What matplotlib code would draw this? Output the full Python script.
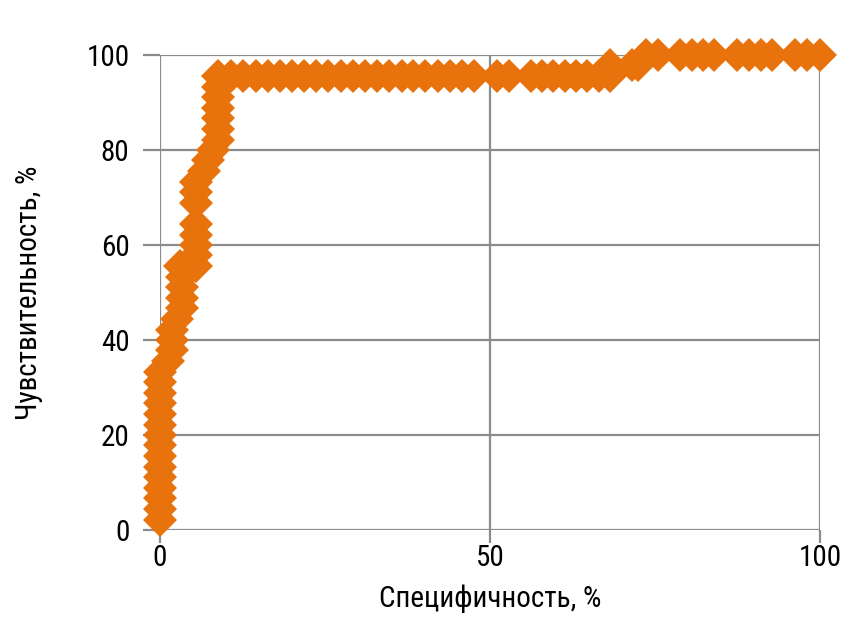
import matplotlib
matplotlib.use('Agg')
import matplotlib.pyplot as plt

# Точки ROC-кривой
specificity = [0, 0, 0, 0, 0, 0, 0, 0, 0, 0, 0, 0, 0, 0, 0,
               1.2, 1.8, 1.8, 1.8, 2.6, 3.4, 3.4, 3.4, 3.4, 3.0,
               5.4, 5.4, 5.4, 5.4, 5.4, 5.4, 5.4, 5.4, 6.6, 7.3, 8.1,
               8.8, 8.8, 8.8, 8.8, 8.8, 8.8, 8.8,
               10.8, 12.6, 14.5, 16.3, 18.2, 20.0, 21.8, 23.7, 25.5, 27.4,
               29.2, 31.0, 32.9, 34.7, 36.6, 38.4, 40.2, 42.1, 43.9, 45.8,
               47.6, 51.1, 52.9, 56.2, 57.9, 59.6, 61.3, 63.0, 64.7, 66.5,
               68.2, 68.2, 71.5, 72.4, 73.6, 75.4, 78.8, 80.6, 82.3, 84.0,
               87.5, 89.3, 91.0, 92.8, 96.3, 98.1, 100]
sensitivity = [2.2, 4.4, 6.7, 8.9, 11.1, 13.3, 15.6, 17.8, 20.0, 22.2, 24.4, 26.7, 28.9, 31.1, 33.3,
               35.6, 37.8, 40.0, 42.2, 44.4, 46.7, 48.9, 51.1, 53.3, 55.6,
               55.6, 57.8, 60.0, 62.2, 64.4, 68.9, 71.1, 73.3, 75.6, 77.8, 80.0,
               82.2, 84.4, 86.7, 88.9, 91.1, 93.3, 95.6,
               95.6, 95.6, 95.6, 95.6, 95.6, 95.6, 95.6, 95.6, 95.6, 95.6,
               95.6, 95.6, 95.6, 95.6, 95.6, 95.6, 95.6, 95.6, 95.6, 95.6,
               95.6, 95.6, 95.6, 95.6, 95.6, 95.6, 95.6, 95.6, 95.6, 95.6,
               95.6, 97.8, 97.8, 97.8, 100, 100, 100, 100, 100, 100,
               100, 100, 100, 100, 100, 100, 100]

x_ticks = [0, 50, 100]
y_ticks = [0, 20, 40, 60, 80, 100]

plt.rcParams['font.family'] = ['Roboto Condensed', 'DejaVu Sans']

fig = plt.figure(figsize=(8.57, 6.31), dpi=100)
ax = fig.add_axes([0.1867, 0.160, 0.770, 0.7528])

ax.plot(specificity, sensitivity, linestyle='none', marker='D', markersize=17,
        color='#E8720C', markeredgewidth=0, clip_on=False, zorder=3)

ax.set_xlim(0, 100)
ax.set_ylim(0, 100)
ax.set_xticks(x_ticks)
ax.set_yticks(y_ticks)
ax.grid(True, color='#8C8C8C', linewidth=1.6)
for s in ax.spines.values():
    s.set_visible(False)
ax.tick_params(axis='both', colors='#8C8C8C', width=1.6, labelcolor='black', labelsize=21)
ax.tick_params(axis='x', length=9, pad=1)
ax.tick_params(axis='y', length=12, pad=10)

ax.set_xlabel('Специфичность, %', fontsize=21, labelpad=9)
ax.set_ylabel('Чувствительность, %', fontsize=21, labelpad=31)

plt.savefig('out.png', dpi=100)
